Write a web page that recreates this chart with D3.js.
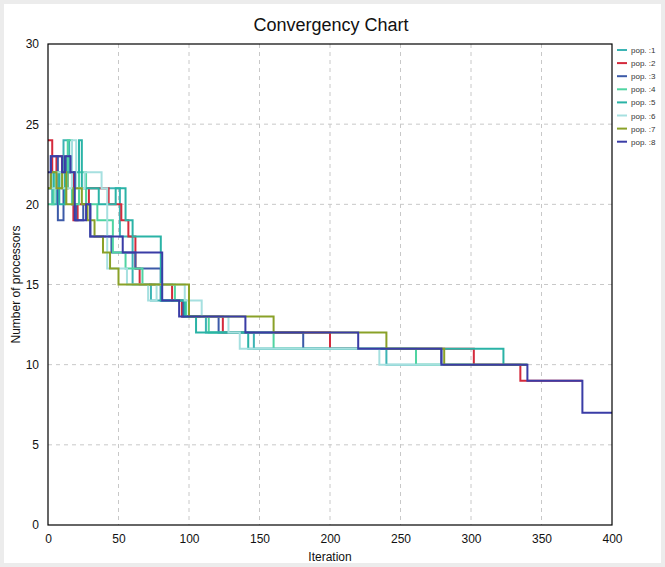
<!DOCTYPE html>
<html>
<head>
<meta charset="utf-8">
<script src="https://cdn.jsdelivr.net/npm/d3@7"></script>
<style>
    body { margin: 0; background: #fff; }
    svg { display: block; font-family: "Liberation Sans", Arial, sans-serif; }
</style>
</head>
<body>
<div class="canvas"></div>

<script>
// change points [iteration, processors] per population
const pop1 = [[0,21],[3,20],[6,22],[11,24],[15,22],[19,21],[51,18],[60,15],[73,14],[95,13],[112,12],[146,11],[240,10]];
const pop2 = [[0,24],[3,22],[6,23],[10,21],[14,22],[18,19],[21,20],[29,21],[43,20],[52,19],[57,18],[62,16],[65,15],[88,14],[95,13],[124,12],[200,11],[302,10],[335,9]];
const pop3 = [[0,21],[2,23],[7,19],[11,21],[13,23],[17,20],[20,19],[25,20],[30,18],[45,17],[62,16],[80,14],[96,13],[121,12],[181,11],[279,10]];
const pop4 = [[0,20],[4,22],[8,21],[14,24],[17,20],[22,22],[27,20],[35,19],[46,17],[55,16],[67,15],[90,14],[98,13],[114,12],[160,11],[261,10]];
const pop5 = [[0,21],[4,22],[8,20],[12,22],[22,24],[24,21],[36,20],[48,21],[55,19],[60,18],[80,14],[97,13],[105,12],[142,11],[323,10]];
const pop6 = [[0,21],[6,22],[10,21],[17,24],[20,21],[26,22],[38,21],[42,16],[56,15],[71,14],[77,15],[97,14],[109,13],[128,12],[136,11],[235,10]];
const pop7 = [[0,21],[2,22],[6,21],[10,22],[13,20],[18,21],[24,20],[28,19],[33,18],[39,17],[44,16],[50,15],[100,13],[160,12],[240,11],[281,10]];
const pop8 = [[0,22],[2,23],[10,22],[12,23],[16,22],[19,19],[27,20],[30,18],[53,17],[81,14],[93,13],[140,12],[220,11],[279,10],[340,9],[379,7]];
const popEnd = [300, 379, 340, 320, 340, 300, 340, 400];
const popNames = ["pop. :1", "pop. :2", "pop. :3", "pop. :4", "pop. :5", "pop. :6", "pop. :7", "pop. :8"];
const popColors = ["#3cb4b4", "#d42a3c", "#3c5aa8", "#50d4a2", "#2ab3a6", "#a6e0e0", "#8aa128", "#3a3ca6"];
const xTicks = [0, 50, 100, 150, 200, 250, 300, 350, 400];
const yTicks = [0, 5, 10, 15, 20, 25, 30];

(function () {
    const width = 665;
    const height = 567;
    const LEFT = 48, RIGHT = 612, TOP = 44, BOTTOM = 525;

    const svg = d3.select(".canvas").append("svg")
        .attr("width", width)
        .attr("height", height);

    svg.append("rect")
        .attr("x", 2).attr("y", 2)
        .attr("width", width - 4).attr("height", height - 4)
        .attr("fill", "#fff")
        .attr("stroke", "#ececec")
        .attr("stroke-width", 4);

    const x = d3.scaleLinear().domain([0, 400]).range([LEFT, RIGHT]);
    const y = d3.scaleLinear().domain([0, 30]).range([BOTTOM, TOP]);

    // grid
    svg.append("g").selectAll("line")
        .data(xTicks.slice(1, -1))
        .enter().append("line")
        .attr("x1", d => x(d)).attr("x2", d => x(d))
        .attr("y1", TOP).attr("y2", BOTTOM)
        .attr("stroke", "#c8c8c8")
        .attr("stroke-dasharray", "4,4");

    svg.append("g").selectAll("line")
        .data(yTicks.slice(1, -1))
        .enter().append("line")
        .attr("x1", LEFT).attr("x2", RIGHT)
        .attr("y1", d => y(d)).attr("y2", d => y(d))
        .attr("stroke", "#c8c8c8")
        .attr("stroke-dasharray", "4,4");

    // series
    const series = [pop1, pop2, pop3, pop4, pop5, pop6, pop7, pop8].map((pts, i) => {
        const last = pts[pts.length - 1];
        return pts.concat([[popEnd[i], last[1]]]);
    });

    const line = d3.line()
        .x(d => x(d[0]))
        .y(d => y(d[1]))
        .curve(d3.curveStepAfter);

    svg.append("g").selectAll("path")
        .data(series)
        .enter().append("path")
        .attr("d", line)
        .attr("fill", "none")
        .attr("stroke", (d, i) => popColors[i])
        .attr("stroke-width", 2);

    // frame
    svg.append("rect")
        .attr("x", LEFT).attr("y", TOP)
        .attr("width", RIGHT - LEFT).attr("height", BOTTOM - TOP)
        .attr("fill", "none")
        .attr("stroke", "#000")
        .attr("stroke-width", 1.2);

    // axes
    const xAxis = svg.append("g")
        .attr("transform", "translate(0," + BOTTOM + ")")
        .call(d3.axisBottom(x).tickValues(xTicks).tickSize(0).tickPadding(9));
    const yAxis = svg.append("g")
        .attr("transform", "translate(" + LEFT + ",0)")
        .call(d3.axisLeft(y).tickValues(yTicks).tickSize(0).tickPadding(9));
    [xAxis, yAxis].forEach(a => {
        a.select(".domain").remove();
        a.selectAll("text")
            .attr("font-family", "Liberation Sans, Arial, sans-serif")
            .attr("font-size", 12)
            .attr("fill", "#111");
    });

    svg.append("text")
        .attr("x", 331).attr("y", 31)
        .attr("text-anchor", "middle")
        .attr("font-size", 18)
        .attr("fill", "#111")
        .text("Convergency Chart");

    svg.append("text")
        .attr("x", 330).attr("y", 561)
        .attr("text-anchor", "middle")
        .attr("font-size", 12)
        .attr("fill", "#111")
        .text("Iteration");

    svg.append("text")
        .attr("transform", "translate(20," + ((TOP + BOTTOM) / 2) + ") rotate(-90)")
        .attr("text-anchor", "middle")
        .attr("font-size", 12)
        .attr("fill", "#111")
        .text("Number of processors");

    // legend
    const legend = svg.append("g").selectAll("g")
        .data(popNames)
        .enter().append("g")
        .attr("transform", (d, i) => "translate(617," + (50 + i * 13.1) + ")");
    legend.append("line")
        .attr("x1", 0).attr("x2", 10)
        .attr("stroke", (d, i) => popColors[i])
        .attr("stroke-width", 2);
    legend.append("text")
        .attr("x", 14).attr("y", 3)
        .attr("font-size", 8)
        .attr("fill", "#333")
        .text(d => d);
})();
</script>
</body>
</html>
